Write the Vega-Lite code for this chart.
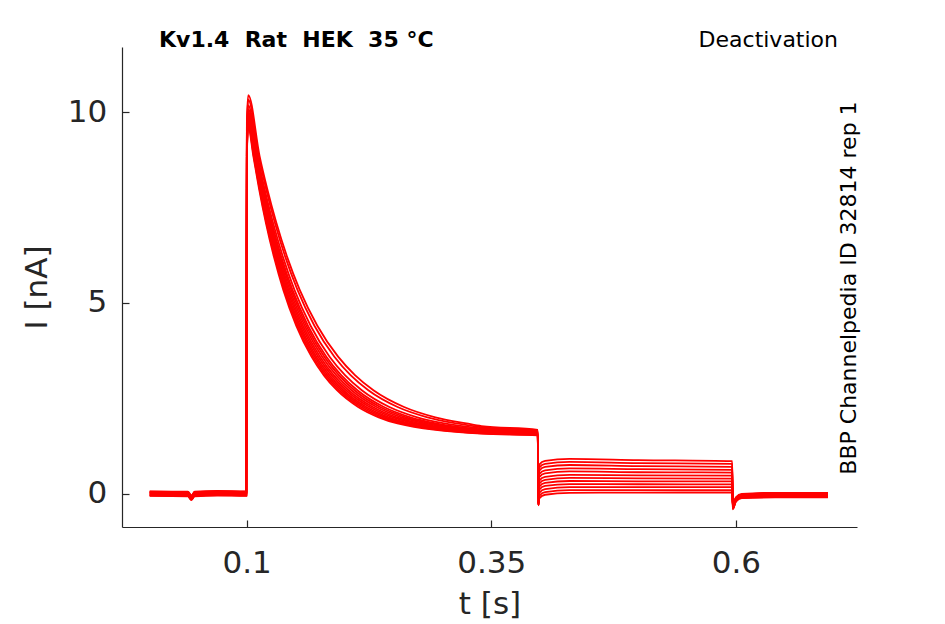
{
  "$schema": "https://vega.github.io/schema/vega-lite/v6.json",
  "width": 735,
  "height": 480,
  "autosize": {"type": "none"},
  "padding": {"left": 122, "top": 47, "right": 88, "bottom": 97},
  "background": "white",
  "data": {
    "values": [
      {"s":1,"t":0.001,"i":0.03},{"s":1,"t":0.04,"i":0.02},{"s":1,"t":0.0436,"i":-0.08},{"s":1,"t":0.047,"i":0.02},{"s":1,"t":0.07,"i":0.04},{"s":1,"t":0.0997,"i":0.03},{"s":1,"t":0.1003,"i":8.9},{"s":1,"t":0.1017,"i":9.6},{"s":1,"t":0.1069,"i":8.85},{"s":1,"t":0.1127,"i":8.0},{"s":1,"t":0.1197,"i":7.1},{"s":1,"t":0.128,"i":6.2},{"s":1,"t":0.1375,"i":5.34},{"s":1,"t":0.1508,"i":4.4},{"s":1,"t":0.1663,"i":3.59},{"s":1,"t":0.179,"i":3.1},{"s":1,"t":0.1923,"i":2.71},{"s":1,"t":0.214,"i":2.27},{"s":1,"t":0.235,"i":2.0},{"s":1,"t":0.2541,"i":1.84},{"s":1,"t":0.34,"i":1.57},{"s":1,"t":0.3975,"i":1.53},{"s":1,"t":0.3982,"i":-0.26},{"s":1,"t":0.399,"i":0.76},{"s":1,"t":0.405,"i":0.86},{"s":1,"t":0.43,"i":0.91},{"s":1,"t":0.5,"i":0.88},{"s":1,"t":0.5962,"i":0.85},{"s":1,"t":0.5968,"i":-0.33},{"s":1,"t":0.6,"i":-0.13},{"s":1,"t":0.606,"i":-0.04},{"s":1,"t":0.64,"i":0.0},{"s":1,"t":0.694,"i":0.0},
      {"s":2,"t":0.001,"i":-0.03},{"s":2,"t":0.04,"i":-0.04},{"s":2,"t":0.0436,"i":-0.14},{"s":2,"t":0.047,"i":-0.04},{"s":2,"t":0.07,"i":-0.02},{"s":2,"t":0.0997,"i":-0.03},{"s":2,"t":0.1003,"i":8.95},{"s":2,"t":0.1017,"i":9.65},{"s":2,"t":0.1073,"i":8.85},{"s":2,"t":0.1132,"i":8.0},{"s":2,"t":0.1203,"i":7.1},{"s":2,"t":0.1288,"i":6.2},{"s":2,"t":0.1385,"i":5.34},{"s":2,"t":0.1521,"i":4.4},{"s":2,"t":0.1679,"i":3.59},{"s":2,"t":0.1809,"i":3.1},{"s":2,"t":0.1945,"i":2.71},{"s":2,"t":0.2168,"i":2.27},{"s":2,"t":0.2385,"i":2.0},{"s":2,"t":0.2583,"i":1.84},{"s":2,"t":0.34,"i":1.58},{"s":2,"t":0.3975,"i":1.54},{"s":2,"t":0.3982,"i":-0.3},{"s":2,"t":0.399,"i":0.68},{"s":2,"t":0.405,"i":0.78},{"s":2,"t":0.43,"i":0.83},{"s":2,"t":0.5,"i":0.8},{"s":2,"t":0.5962,"i":0.78},{"s":2,"t":0.5968,"i":-0.38},{"s":2,"t":0.6,"i":-0.18},{"s":2,"t":0.606,"i":-0.09},{"s":2,"t":0.64,"i":-0.07},{"s":2,"t":0.694,"i":-0.07},
      {"s":3,"t":0.001,"i":0.05},{"s":3,"t":0.04,"i":0.04},{"s":3,"t":0.0436,"i":-0.06},{"s":3,"t":0.047,"i":0.04},{"s":3,"t":0.07,"i":0.06},{"s":3,"t":0.0997,"i":0.05},{"s":3,"t":0.1003,"i":9.0},{"s":3,"t":0.1017,"i":9.7},{"s":3,"t":0.1077,"i":8.85},{"s":3,"t":0.1137,"i":8.0},{"s":3,"t":0.121,"i":7.1},{"s":3,"t":0.1296,"i":6.2},{"s":3,"t":0.1395,"i":5.34},{"s":3,"t":0.1534,"i":4.4},{"s":3,"t":0.1696,"i":3.59},{"s":3,"t":0.1828,"i":3.1},{"s":3,"t":0.1968,"i":2.71},{"s":3,"t":0.2196,"i":2.27},{"s":3,"t":0.242,"i":2.0},{"s":3,"t":0.2626,"i":1.84},{"s":3,"t":0.34,"i":1.59},{"s":3,"t":0.3975,"i":1.55},{"s":3,"t":0.3982,"i":-0.25},{"s":3,"t":0.399,"i":0.6},{"s":3,"t":0.405,"i":0.7},{"s":3,"t":0.43,"i":0.75},{"s":3,"t":0.5,"i":0.72},{"s":3,"t":0.5962,"i":0.7},{"s":3,"t":0.5968,"i":-0.31},{"s":3,"t":0.6,"i":-0.11},{"s":3,"t":0.606,"i":-0.02},{"s":3,"t":0.64,"i":0.01},{"s":3,"t":0.694,"i":0.01},
      {"s":4,"t":0.001,"i":0.0},{"s":4,"t":0.04,"i":-0.01},{"s":4,"t":0.0436,"i":-0.11},{"s":4,"t":0.047,"i":-0.01},{"s":4,"t":0.07,"i":0.01},{"s":4,"t":0.0997,"i":0.0},{"s":4,"t":0.1003,"i":9.05},{"s":4,"t":0.1017,"i":9.75},{"s":4,"t":0.1081,"i":8.85},{"s":4,"t":0.1142,"i":8.0},{"s":4,"t":0.1216,"i":7.1},{"s":4,"t":0.1304,"i":6.2},{"s":4,"t":0.1405,"i":5.34},{"s":4,"t":0.1547,"i":4.4},{"s":4,"t":0.1712,"i":3.59},{"s":4,"t":0.1848,"i":3.1},{"s":4,"t":0.199,"i":2.71},{"s":4,"t":0.2224,"i":2.27},{"s":4,"t":0.2454,"i":2.0},{"s":4,"t":0.2668,"i":1.84},{"s":4,"t":0.34,"i":1.61},{"s":4,"t":0.3975,"i":1.56},{"s":4,"t":0.3982,"i":-0.28},{"s":4,"t":0.399,"i":0.51},{"s":4,"t":0.405,"i":0.61},{"s":4,"t":0.43,"i":0.66},{"s":4,"t":0.5,"i":0.64},{"s":4,"t":0.5962,"i":0.62},{"s":4,"t":0.5968,"i":-0.36},{"s":4,"t":0.6,"i":-0.16},{"s":4,"t":0.606,"i":-0.07},{"s":4,"t":0.64,"i":-0.04},{"s":4,"t":0.694,"i":-0.04},
      {"s":5,"t":0.001,"i":-0.05},{"s":5,"t":0.04,"i":-0.06},{"s":5,"t":0.0436,"i":-0.16},{"s":5,"t":0.047,"i":-0.06},{"s":5,"t":0.07,"i":-0.04},{"s":5,"t":0.0997,"i":-0.05},{"s":5,"t":0.1003,"i":9.11},{"s":5,"t":0.1017,"i":9.81},{"s":5,"t":0.1085,"i":8.85},{"s":5,"t":0.1148,"i":8.0},{"s":5,"t":0.1224,"i":7.1},{"s":5,"t":0.1314,"i":6.2},{"s":5,"t":0.1417,"i":5.34},{"s":5,"t":0.1562,"i":4.4},{"s":5,"t":0.1731,"i":3.59},{"s":5,"t":0.187,"i":3.1},{"s":5,"t":0.2016,"i":2.71},{"s":5,"t":0.2257,"i":2.27},{"s":5,"t":0.2495,"i":2.0},{"s":5,"t":0.2717,"i":1.84},{"s":5,"t":0.34,"i":1.62},{"s":5,"t":0.3975,"i":1.57},{"s":5,"t":0.3982,"i":-0.31},{"s":5,"t":0.399,"i":0.43},{"s":5,"t":0.405,"i":0.53},{"s":5,"t":0.43,"i":0.58},{"s":5,"t":0.5,"i":0.56},{"s":5,"t":0.5962,"i":0.55},{"s":5,"t":0.5968,"i":-0.4},{"s":5,"t":0.6,"i":-0.2},{"s":5,"t":0.606,"i":-0.11},{"s":5,"t":0.64,"i":-0.09},{"s":5,"t":0.694,"i":-0.09},
      {"s":6,"t":0.001,"i":0.02},{"s":6,"t":0.04,"i":0.01},{"s":6,"t":0.0436,"i":-0.09},{"s":6,"t":0.047,"i":0.01},{"s":6,"t":0.07,"i":0.03},{"s":6,"t":0.0997,"i":0.02},{"s":6,"t":0.1003,"i":9.17},{"s":6,"t":0.1017,"i":9.87},{"s":6,"t":0.109,"i":8.85},{"s":6,"t":0.1154,"i":8.0},{"s":6,"t":0.1231,"i":7.1},{"s":6,"t":0.1323,"i":6.2},{"s":6,"t":0.1429,"i":5.34},{"s":6,"t":0.1577,"i":4.4},{"s":6,"t":0.175,"i":3.59},{"s":6,"t":0.1892,"i":3.1},{"s":6,"t":0.2042,"i":2.71},{"s":6,"t":0.229,"i":2.27},{"s":6,"t":0.2535,"i":2.0},{"s":6,"t":0.2767,"i":1.84},{"s":6,"t":0.34,"i":1.63},{"s":6,"t":0.3975,"i":1.57},{"s":6,"t":0.3982,"i":-0.27},{"s":6,"t":0.399,"i":0.34},{"s":6,"t":0.405,"i":0.44},{"s":6,"t":0.43,"i":0.49},{"s":6,"t":0.5,"i":0.48},{"s":6,"t":0.5962,"i":0.47},{"s":6,"t":0.5968,"i":-0.34},{"s":6,"t":0.6,"i":-0.14},{"s":6,"t":0.606,"i":-0.05},{"s":6,"t":0.64,"i":-0.02},{"s":6,"t":0.694,"i":-0.02},
      {"s":7,"t":0.001,"i":-0.02},{"s":7,"t":0.04,"i":-0.03},{"s":7,"t":0.0436,"i":-0.13},{"s":7,"t":0.047,"i":-0.03},{"s":7,"t":0.07,"i":-0.01},{"s":7,"t":0.0997,"i":-0.02},{"s":7,"t":0.1003,"i":9.24},{"s":7,"t":0.1017,"i":9.94},{"s":7,"t":0.1095,"i":8.85},{"s":7,"t":0.116,"i":8.0},{"s":7,"t":0.124,"i":7.1},{"s":7,"t":0.1334,"i":6.2},{"s":7,"t":0.1442,"i":5.34},{"s":7,"t":0.1594,"i":4.4},{"s":7,"t":0.1772,"i":3.59},{"s":7,"t":0.1918,"i":3.1},{"s":7,"t":0.2072,"i":2.71},{"s":7,"t":0.2328,"i":2.27},{"s":7,"t":0.2582,"i":2.0},{"s":7,"t":0.2823,"i":1.84},{"s":7,"t":0.34,"i":1.65},{"s":7,"t":0.3975,"i":1.59},{"s":7,"t":0.3982,"i":-0.29},{"s":7,"t":0.399,"i":0.26},{"s":7,"t":0.405,"i":0.36},{"s":7,"t":0.43,"i":0.41},{"s":7,"t":0.5,"i":0.4},{"s":7,"t":0.5962,"i":0.39},{"s":7,"t":0.5968,"i":-0.37},{"s":7,"t":0.6,"i":-0.17},{"s":7,"t":0.606,"i":-0.08},{"s":7,"t":0.64,"i":-0.06},{"s":7,"t":0.694,"i":-0.06},
      {"s":8,"t":0.001,"i":0.04},{"s":8,"t":0.04,"i":0.03},{"s":8,"t":0.0436,"i":-0.07},{"s":8,"t":0.047,"i":0.03},{"s":8,"t":0.07,"i":0.05},{"s":8,"t":0.0997,"i":0.04},{"s":8,"t":0.1003,"i":9.31},{"s":8,"t":0.1017,"i":10.01},{"s":8,"t":0.11,"i":8.85},{"s":8,"t":0.1167,"i":8.0},{"s":8,"t":0.1248,"i":7.1},{"s":8,"t":0.1345,"i":6.2},{"s":8,"t":0.1456,"i":5.34},{"s":8,"t":0.1611,"i":4.4},{"s":8,"t":0.1794,"i":3.59},{"s":8,"t":0.1944,"i":3.1},{"s":8,"t":0.2102,"i":2.71},{"s":8,"t":0.2365,"i":2.27},{"s":8,"t":0.2628,"i":2.0},{"s":8,"t":0.2879,"i":1.84},{"s":8,"t":0.34,"i":1.67},{"s":8,"t":0.3975,"i":1.6},{"s":8,"t":0.3982,"i":-0.26},{"s":8,"t":0.399,"i":0.18},{"s":8,"t":0.405,"i":0.28},{"s":8,"t":0.43,"i":0.33},{"s":8,"t":0.5,"i":0.32},{"s":8,"t":0.5962,"i":0.32},{"s":8,"t":0.5968,"i":-0.32},{"s":8,"t":0.6,"i":-0.12},{"s":8,"t":0.606,"i":-0.03},{"s":8,"t":0.64,"i":0.01},{"s":8,"t":0.694,"i":0.01},
      {"s":9,"t":0.001,"i":-0.04},{"s":9,"t":0.04,"i":-0.05},{"s":9,"t":0.0436,"i":-0.15},{"s":9,"t":0.047,"i":-0.05},{"s":9,"t":0.07,"i":-0.03},{"s":9,"t":0.0997,"i":-0.04},{"s":9,"t":0.1003,"i":9.38},{"s":9,"t":0.1017,"i":10.08},{"s":9,"t":0.1105,"i":8.85},{"s":9,"t":0.1174,"i":8.0},{"s":9,"t":0.1257,"i":7.1},{"s":9,"t":0.1356,"i":6.2},{"s":9,"t":0.1469,"i":5.34},{"s":9,"t":0.1628,"i":4.4},{"s":9,"t":0.1815,"i":3.59},{"s":9,"t":0.1969,"i":3.1},{"s":9,"t":0.2132,"i":2.71},{"s":9,"t":0.2403,"i":2.27},{"s":9,"t":0.2674,"i":2.0},{"s":9,"t":0.2936,"i":1.84},{"s":9,"t":0.34,"i":1.68},{"s":9,"t":0.3975,"i":1.61},{"s":9,"t":0.3982,"i":-0.3},{"s":9,"t":0.399,"i":0.1},{"s":9,"t":0.405,"i":0.2},{"s":9,"t":0.43,"i":0.25},{"s":9,"t":0.5,"i":0.245},{"s":9,"t":0.5962,"i":0.24},{"s":9,"t":0.5968,"i":-0.39},{"s":9,"t":0.6,"i":-0.19},{"s":9,"t":0.606,"i":-0.1},{"s":9,"t":0.64,"i":-0.08},{"s":9,"t":0.694,"i":-0.08},
      {"s":10,"t":0.001,"i":0.01},{"s":10,"t":0.04,"i":0.0},{"s":10,"t":0.0436,"i":-0.1},{"s":10,"t":0.047,"i":0.0},{"s":10,"t":0.07,"i":0.02},{"s":10,"t":0.0997,"i":0.01},{"s":10,"t":0.1003,"i":9.48},{"s":10,"t":0.1017,"i":10.18},{"s":10,"t":0.1113,"i":8.85},{"s":10,"t":0.1183,"i":8.0},{"s":10,"t":0.127,"i":7.1},{"s":10,"t":0.1372,"i":6.2},{"s":10,"t":0.1489,"i":5.34},{"s":10,"t":0.1654,"i":4.4},{"s":10,"t":0.1848,"i":3.59},{"s":10,"t":0.2008,"i":3.1},{"s":10,"t":0.2177,"i":2.71},{"s":10,"t":0.2459,"i":2.27},{"s":10,"t":0.2744,"i":2.0},{"s":10,"t":0.302,"i":1.84},{"s":10,"t":0.34,"i":1.71},{"s":10,"t":0.3975,"i":1.63},{"s":10,"t":0.3982,"i":-0.28},{"s":10,"t":0.399,"i":0.02},{"s":10,"t":0.405,"i":0.12},{"s":10,"t":0.43,"i":0.17},{"s":10,"t":0.5,"i":0.17},{"s":10,"t":0.5962,"i":0.17},{"s":10,"t":0.5968,"i":-0.35},{"s":10,"t":0.6,"i":-0.15},{"s":10,"t":0.606,"i":-0.06},{"s":10,"t":0.64,"i":-0.03},{"s":10,"t":0.694,"i":-0.03},
      {"s":11,"t":0.001,"i":0.06},{"s":11,"t":0.04,"i":0.05},{"s":11,"t":0.0436,"i":-0.05},{"s":11,"t":0.047,"i":0.05},{"s":11,"t":0.07,"i":0.07},{"s":11,"t":0.0997,"i":0.06},{"s":11,"t":0.1003,"i":9.63},{"s":11,"t":0.1017,"i":10.33},{"s":11,"t":0.1124,"i":8.85},{"s":11,"t":0.1198,"i":8.0},{"s":11,"t":0.1289,"i":7.1},{"s":11,"t":0.1396,"i":6.2},{"s":11,"t":0.152,"i":5.34},{"s":11,"t":0.1693,"i":4.4},{"s":11,"t":0.1897,"i":3.59},{"s":11,"t":0.2065,"i":3.1},{"s":11,"t":0.2244,"i":2.71},{"s":11,"t":0.2543,"i":2.27},{"s":11,"t":0.2848,"i":2.0},{"s":11,"t":0.3147,"i":1.84},{"s":11,"t":0.34,"i":1.74},{"s":11,"t":0.3975,"i":1.65},{"s":11,"t":0.3982,"i":-0.25},{"s":11,"t":0.399,"i":-0.06},{"s":11,"t":0.405,"i":0.04},{"s":11,"t":0.43,"i":0.09},{"s":11,"t":0.5,"i":0.09},{"s":11,"t":0.5962,"i":0.09},{"s":11,"t":0.5968,"i":-0.3},{"s":11,"t":0.6,"i":-0.1},{"s":11,"t":0.606,"i":-0.01},{"s":11,"t":0.64,"i":0.02},{"s":11,"t":0.694,"i":0.02},
      {"s":12,"t":0.001,"i":-0.06},{"s":12,"t":0.04,"i":-0.07},{"s":12,"t":0.0436,"i":-0.17},{"s":12,"t":0.047,"i":-0.07},{"s":12,"t":0.07,"i":-0.05},{"s":12,"t":0.0997,"i":-0.06},{"s":12,"t":0.1003,"i":9.75},{"s":12,"t":0.1017,"i":10.45},{"s":12,"t":0.1133,"i":8.85},{"s":12,"t":0.121,"i":8.0},{"s":12,"t":0.1304,"i":7.1},{"s":12,"t":0.1415,"i":6.2},{"s":12,"t":0.1543,"i":5.34},{"s":12,"t":0.1723,"i":4.4},{"s":12,"t":0.1935,"i":3.59},{"s":12,"t":0.211,"i":3.1},{"s":12,"t":0.2296,"i":2.71},{"s":12,"t":0.2609,"i":2.27},{"s":12,"t":0.2929,"i":2.0},{"s":12,"t":0.3246,"i":1.84},{"s":12,"t":0.34,"i":1.77},{"s":12,"t":0.3975,"i":1.67},{"s":12,"t":0.3982,"i":-0.31},{"s":12,"t":0.399,"i":-0.13},{"s":12,"t":0.405,"i":-0.03},{"s":12,"t":0.43,"i":0.02},{"s":12,"t":0.5,"i":0.025},{"s":12,"t":0.5962,"i":0.03},{"s":12,"t":0.5968,"i":-0.41},{"s":12,"t":0.6,"i":-0.21},{"s":12,"t":0.606,"i":-0.12},{"s":12,"t":0.64,"i":-0.1},{"s":12,"t":0.694,"i":-0.1}
    ]
  },
  "layer": [
    {
      "mark": {"type": "line", "color": "#ff0000", "strokeWidth": 1.8, "interpolate": "monotone"},
      "encoding": {
        "x": {
          "field": "t",
          "type": "quantitative",
          "scale": {"domain": [-0.0273, 0.7237], "nice": false, "zero": false},
          "axis": {
            "title": "t [s]",
            "values": [0.1, 0.35, 0.6],
            "format": "~g",
            "labelBaseline": "alphabetic",
            "labelPadding": 52.6,
            "titleBaseline": "alphabetic",
            "titleY": 86.6
          }
        },
        "y": {
          "field": "i",
          "type": "quantitative",
          "scale": {"domain": [-0.876, 11.71], "nice": false, "zero": false},
          "axis": {
            "title": "I [nA]",
            "values": [0, 5, 10],
            "labelPadding": 22.3,
            "titleBaseline": "alphabetic",
            "titleX": -76
          }
        },
        "detail": {"field": "s", "type": "nominal"}
      }
    },
    {
      "data": {"values": [{}]},
      "mark": {"type": "text", "text": "Kv1.4 \u00a0Rat \u00a0HEK \u00a035 °C", "font": "DejaVu Sans", "fontSize": 22, "fontWeight": "bold", "align": "left", "baseline": "alphabetic", "color": "#000000"},
      "encoding": {
        "x": {"datum": 0.0105, "type": "quantitative"},
        "y": {"datum": 11.72, "type": "quantitative"}
      }
    },
    {
      "data": {"values": [{}]},
      "mark": {"type": "text", "text": "Deactivation", "font": "DejaVu Sans", "fontSize": 22, "align": "right", "baseline": "alphabetic", "color": "#000000"},
      "encoding": {
        "x": {"datum": 0.7043, "type": "quantitative"},
        "y": {"datum": 11.72, "type": "quantitative"}
      }
    },
    {
      "data": {"values": [{}]},
      "mark": {"type": "text", "text": "BBP Channelpedia ID 32814 rep 1", "font": "DejaVu Sans", "fontSize": 22, "angle": 270, "align": "center", "baseline": "middle", "color": "#000000"},
      "encoding": {
        "x": {"datum": 0.7156, "type": "quantitative"},
        "y": {"datum": 5.39, "type": "quantitative"}
      }
    }
  ],
  "config": {
    "view": {"stroke": null},
    "font": "DejaVu Sans",
    "axis": {
      "grid": false,
      "domainColor": "#262626",
      "domainWidth": 1.2,
      "tickColor": "#262626",
      "tickWidth": 1.2,
      "tickSize": -7,
      "labelColor": "#262626",
      "labelFontSize": 31,
      "labelFont": "DejaVu Sans",
      "titleColor": "#262626",
      "titleFontSize": 31,
      "titleFont": "DejaVu Sans",
      "titleFontWeight": "normal"
    }
  }
}
